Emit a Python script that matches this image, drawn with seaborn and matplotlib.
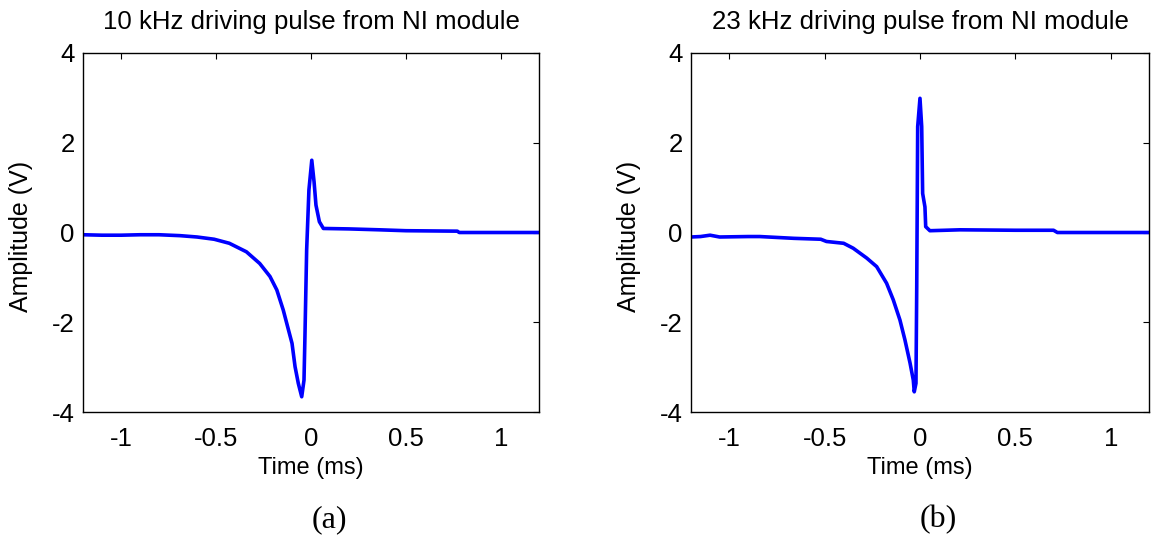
import matplotlib
matplotlib.use("Agg")
import matplotlib.pyplot as plt
import seaborn as sns

# Driving pulse traces (time in ms, amplitude in V)
t_10k = [-1.2, -1.1, -1.0, -0.9, -0.8, -0.69, -0.6, -0.51, -0.43, -0.34, -0.27, -0.216,
         -0.18, -0.146, -0.128, -0.10, -0.084, -0.067, -0.049, -0.037, -0.032, -0.023,
         -0.011, 0.004, 0.016, 0.026, 0.044, 0.065, 0.2, 0.36, 0.5, 0.77, 0.78, 1.2]
v_10k = [-0.05, -0.06, -0.06, -0.05, -0.05, -0.07, -0.1, -0.15, -0.24, -0.43, -0.69, -0.98,
         -1.28, -1.73, -2.02, -2.47, -2.99, -3.36, -3.66, -3.29, -2.32, -0.39,
         0.95, 1.61, 1.13, 0.61, 0.24, 0.09, 0.08, 0.06, 0.04, 0.03, 0.0, 0.0]

t_23k = [-1.2, -1.15, -1.1, -1.05, -0.9, -0.84, -0.66, -0.52, -0.49, -0.40, -0.35,
         -0.279, -0.227, -0.175, -0.14, -0.105, -0.079, -0.052, -0.035, -0.030,
         -0.021, -0.017, -0.012, 0.0, 0.009, 0.014, 0.026, 0.030, 0.052, 0.21,
         0.5, 0.7, 0.72, 1.2]
v_23k = [-0.1, -0.09, -0.06, -0.1, -0.09, -0.09, -0.13, -0.15, -0.2, -0.24, -0.35,
         -0.57, -0.76, -1.13, -1.5, -1.95, -2.39, -2.91, -3.29, -3.55,
         -3.36, -1.21, 2.36, 2.99, 2.36, 0.87, 0.57, 0.13, 0.04, 0.06,
         0.05, 0.05, 0.0, 0.0]

titles = ["10 kHz driving pulse from NI module", "23 kHz driving pulse from NI module"]
panel_tags = ["(a)", "(b)"]
x_ticks = [-1, -0.5, 0, 0.5, 1]
x_labels = ["-1", "-0.5", "0", "0.5", "1"]
y_ticks = [-4, -2, 0, 2, 4]
y_labels = ["-4", "-2", "0", "2", "4"]

sns.set_style("white")
plt.rcParams['font.family'] = ['Liberation Sans', 'DejaVu Sans']
plt.rcParams['text.color'] = 'black'
plt.rcParams['axes.labelcolor'] = 'black'

fig = plt.figure(figsize=(11.53, 5.44), dpi=100)
ax_a = fig.add_axes([0.072, 0.2426, 0.3955, 0.660])
ax_b = fig.add_axes([0.5993, 0.2426, 0.3972, 0.660])

for ax, t, v, title, tag in [(ax_a, t_10k, v_10k, titles[0], panel_tags[0]),
                             (ax_b, t_23k, v_23k, titles[1], panel_tags[1])]:
    sns.lineplot(x=t, y=v, ax=ax, color="#0000ff", linewidth=2.6,
                 estimator=None, sort=False)
    ax.set_xlim(-1.2, 1.2)
    ax.set_ylim(-4, 4)
    ax.set_xticks(x_ticks)
    ax.set_xticklabels(x_labels)
    ax.set_yticks(y_ticks)
    ax.set_yticklabels(y_labels)
    ax.tick_params(direction="in", length=4, width=0.8, top=True, right=True,
                   labelsize=18.5, colors="black", pad=6)
    ax.tick_params(axis="x", pad=11)
    for s in ax.spines.values():
        s.set_visible(True)
        s.set_color("black")
        s.set_linewidth(1.0)
    ax.set_title(title, fontsize=18.6, pad=17, color="black")
    ax.set_xlabel("Time (ms)", fontsize=17, labelpad=4)
    ax.set_ylabel("Amplitude (V)", fontsize=18)
    ax.yaxis.set_label_coords(-0.11, 0.49)
    pos = ax.get_position()
    fig.text((pos.x0 + pos.x1) / 2 + 0.016, 0.045, tag, ha="center", va="center",
             fontsize=23, family="Liberation Serif")

fig.savefig("out.png", dpi=100)
